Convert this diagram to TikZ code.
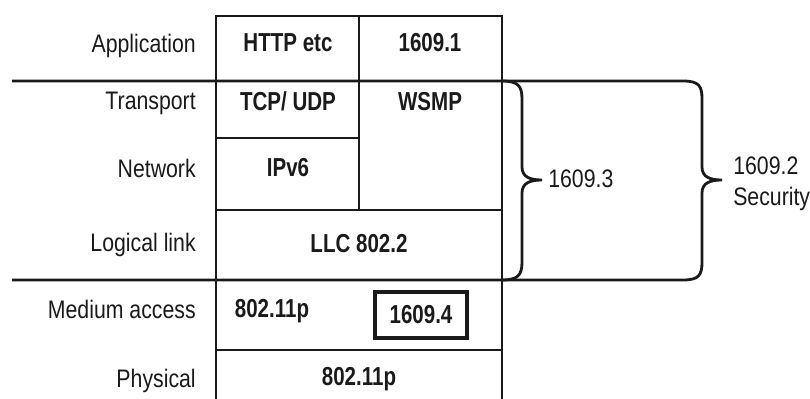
\documentclass[tikz,border=0pt]{standalone}
\usepackage{fontspec}
\newfontfamily\labfont[FakeStretch=0.84]{Liberation Sans}
\newfontfamily\celfont[FakeStretch=0.79]{Liberation Sans Bold}
\definecolor{ink}{HTML}{1A1A1A}
\begin{document}
\begin{tikzpicture}[x=0.75pt,y=-0.75pt,
  rule/.style={draw=ink,line width=2.1pt},
  layerlabel/.style={anchor=base east,inner sep=0pt,text=ink,font=\labfont\fontsize{19}{22}\selectfont},
  celltext/.style={anchor=base,inner sep=0pt,text=ink,font=\celfont\fontsize{19.5}{22}\selectfont},
  bracetext/.style={anchor=base west,inner sep=0pt,text=ink,font=\labfont\fontsize{19}{22}\selectfont}]
\useasboundingbox (0,0) rectangle (810,399);
% table frame
\draw[rule] (216,399) -- (216,16) -- (502,16) -- (502,399);
\draw[rule] (359,16) -- (359,210);
\draw[rule] (216,138) -- (359,138);
\draw[rule] (216,210) -- (502,210);
\draw[rule] (216,350) -- (502,350);
% long lines with the 1609.2 brace
\draw[rule] (12,81) -- (683,81) .. controls (699,81) and (702,86) .. (702,99)
  -- (702,167) .. controls (702,177) and (710,180) .. (722,180)
  .. controls (710,180) and (702,183) .. (702,193)
  -- (702,262) .. controls (702,275) and (699,280) .. (683,280) -- (12,280);
% 1609.3 brace
\draw[rule] (502,81) .. controls (518,81) and (522,86) .. (522,99)
  -- (522,167) .. controls (522,177) and (530,180) .. (542,180)
  .. controls (530,180) and (522,183) .. (522,193)
  -- (522,262) .. controls (522,275) and (518,280) .. (502,280);
% 1609.4 box
\node[draw=ink,line width=2.8pt,minimum width=92*0.75pt,minimum height=46*0.75pt,inner sep=0pt] (b4) at (421,315) {};
% layer labels
\node[layerlabel] (app) at (196,53) {Application};
\node[layerlabel] (tra) at (196,110) {Transport};
\node[layerlabel] (net) at (196,177) {Network};
\node[layerlabel] (llk) at (196,251) {Logical link};
\node[layerlabel] (mac) at (196,318) {Medium access};
\node[layerlabel] (phy) at (196,387) {Physical};
% cell texts
\node[celltext] (http) at (288,52) {HTTP etc};
\node[celltext] (p1) at (430,52) {1609.1};
\node[celltext] (tcp) at (288,111) {TCP/ UDP};
\node[celltext] (wsmp) at (430,111) {WSMP};
\node[celltext] (ip) at (288,176) {IPv6};
\node[celltext] (llc) at (359,252) {LLC 802.2};
\node[celltext] (mac1) at (272,317) {802.11p};
\node[celltext] (p4) at (421,323) {1609.4};
\node[celltext] (phy1) at (359,385) {802.11p};
% brace labels
\node[bracetext] (s3) at (548,187) {1609.3};
\node[bracetext] (s2) at (733,175) {1609.2};
\node[bracetext] (sec) at (733,205) {Security};
\end{tikzpicture}
\end{document}
